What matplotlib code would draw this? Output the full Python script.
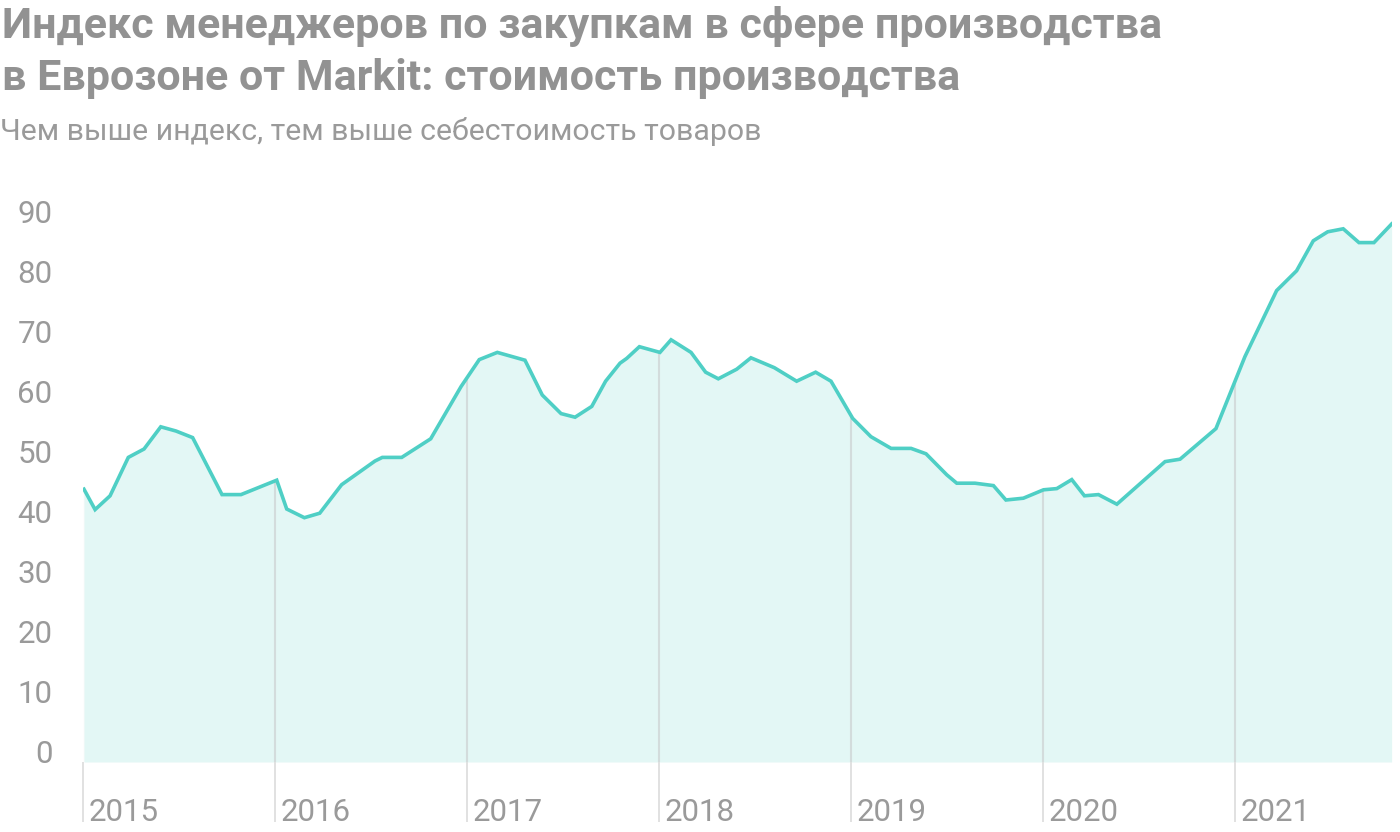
import numpy as np
import matplotlib
matplotlib.use('Agg')
import matplotlib.pyplot as plt

plt.rcParams['font.family'] = ['Roboto', 'DejaVu Sans']

# data (decimal year, index value)
dates = [2015.005, 2015.063, 2015.141, 2015.236, 2015.318, 2015.405, 2015.484, 2015.571,
         2015.724, 2015.823, 2016.009, 2016.061, 2016.153, 2016.233, 2016.347, 2016.521,
         2016.559, 2016.660, 2016.811, 2016.969, 2017.064, 2017.158, 2017.302, 2017.392,
         2017.490, 2017.563, 2017.650, 2017.722, 2017.797, 2017.832, 2017.898, 2018.005,
         2018.063, 2018.167, 2018.243, 2018.309, 2018.405, 2018.479, 2018.601, 2018.717,
         2018.816, 2018.896, 2019.009, 2019.104, 2019.209, 2019.313, 2019.391, 2019.499,
         2019.551, 2019.646, 2019.742, 2019.807, 2019.898, 2020.003, 2020.072, 2020.150,
         2020.216, 2020.289, 2020.385, 2020.636, 2020.714, 2020.901, 2021.052, 2021.217,
         2021.321, 2021.408, 2021.483, 2021.564, 2021.646, 2021.724, 2021.816]
values = [43.8, 40.4, 42.7, 49.1, 50.5, 54.2, 53.5, 52.4,
          42.9, 42.9, 45.3, 40.5, 39.05, 39.8, 44.55, 48.5,
          49.1, 49.1, 52.2, 60.9, 65.4, 66.6, 65.3, 59.5,
          56.4, 55.8, 57.6, 61.8, 64.8, 65.6, 67.55, 66.6,
          68.7, 66.6, 63.3, 62.2, 63.8, 65.7, 64.05, 61.8,
          63.3, 61.8, 55.6, 52.55, 50.6, 50.6, 49.7, 46.2,
          44.8, 44.8, 44.4, 42.0, 42.3, 43.7, 43.9, 45.4,
          42.7, 42.9, 41.3, 48.4, 48.8, 53.9, 65.9, 76.9,
          80.2, 85.2, 86.7, 87.2, 84.9, 84.9, 88.0]
years = [2015, 2016, 2017, 2018, 2019, 2020, 2021]
yticks = [0, 10, 20, 30, 40, 50, 60, 70, 80, 90]

title_lines = ['Индекс менеджеров по закупкам в сфере производства',
               'в Еврозоне от Markit: стоимость производства']
subtitle = 'Чем выше индекс, тем выше себестоимость товаров'

W, H = 1400, 832
fig = plt.figure(figsize=(W / 100, H / 100), dpi=100)
ax = fig.add_axes([83 / W, (H - 762) / H, (1392 - 83) / W, (762 - 200) / H])

ymin = -1.667
ax.set_xlim(2015.0, 2021.818)
ax.set_ylim(ymin, 92)

line_col = '#4fcfc5'
fill = ax.fill_between(dates, values, ymin, color='#e3f7f5', lw=0, zorder=1)
clip = fill.get_paths()[0]

# year gridlines visible only under the curve
for y in years:
    gl = ax.axvline(y, color='#d3dcdc', lw=1.5, zorder=2)
    gl.set_clip_path(clip, ax.transData)

ax.plot(dates, values, color=line_col, lw=2.6, zorder=3, solid_joinstyle='miter')

for s in ax.spines.values():
    s.set_visible(False)

ax.set_yticks(yticks)
ax.set_yticklabels([str(t) for t in yticks])
ax.tick_params(axis='y', length=0, pad=22, labelsize=22.5, labelcolor='#9a9a9a')

ax.set_xticks(years)
ax.set_xticklabels([])
ax.tick_params(axis='x', direction='out', length=43, width=1.2, color='#dcdcdc')

for y in years:
    ax.annotate(str(y), xy=(y, 0), xycoords=('data', 'axes fraction'),
                xytext=(6, -59), textcoords='offset pixels',
                ha='left', va='baseline', fontsize=22.5, color='#9a9a9a')

fig.text(2 / W, 1 - 38 / H, title_lines[0], fontsize=31, fontweight='bold',
         color='#929292', ha='left', va='baseline')
fig.text(2 / W, 1 - 90 / H, title_lines[1], fontsize=31, fontweight='bold',
         color='#929292', ha='left', va='baseline')
fig.text(0 / W, 1 - 140 / H, subtitle, fontsize=21.8, color='#9a9a9a',
         ha='left', va='baseline')

fig.savefig('out.png', dpi=100)
